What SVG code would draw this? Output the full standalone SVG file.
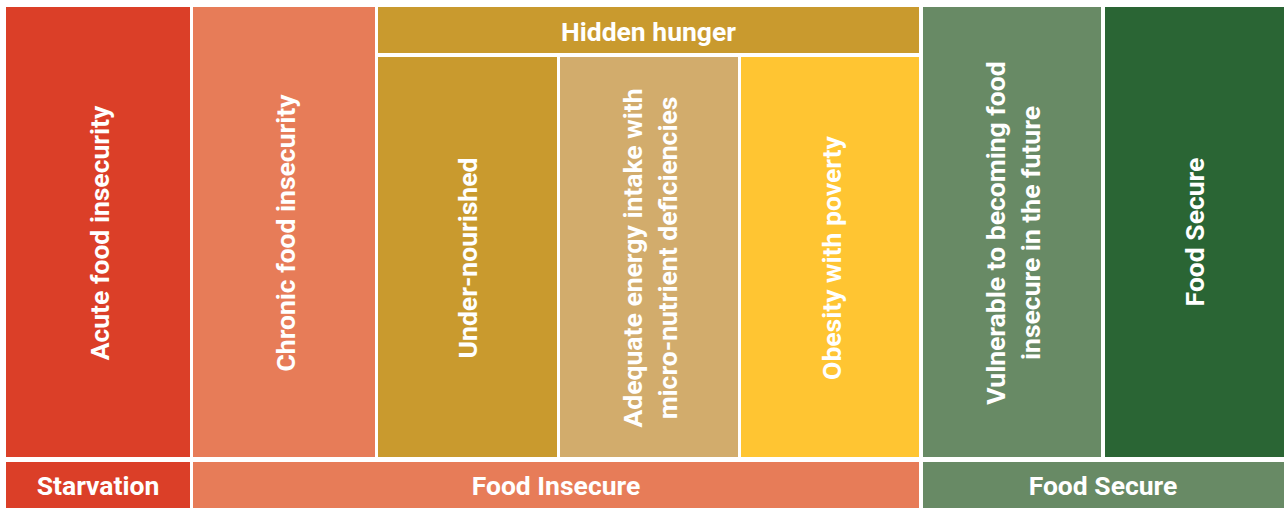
<svg xmlns="http://www.w3.org/2000/svg" width="1284" height="508" viewBox="0 0 1284 508">
<style>
text{font-family:Roboto,"Liberation Sans",sans-serif;font-weight:700;font-size:26.5px;fill:#ffffff;text-anchor:middle;dominant-baseline:central}
</style>
<rect x="0" y="0" width="1284" height="508" fill="#ffffff"/>
<g id="acute"><rect x="6" y="7" width="184" height="450" fill="#DB3F28"/><text transform="translate(99,233) rotate(-90)">Acute food insecurity</text></g>
<g id="chronic"><rect x="193" y="7" width="182" height="450" fill="#E77C58"/><text transform="translate(285,233) rotate(-90)">Chronic food insecurity</text></g>
<g id="hidden"><rect x="378" y="7" width="541" height="46" fill="#C99A2E"/><text x="648.5" y="31.5">Hidden hunger</text></g>
<g id="undernourished"><rect x="378" y="57" width="179" height="400" fill="#C99A2E"/><text transform="translate(467.5,258) rotate(-90)">Under-nourished</text></g>
<g id="adequate"><rect x="560" y="57" width="178" height="400" fill="#D2AC6C"/><text transform="translate(649,258) rotate(-90)"><tspan x="0" dy="-17.5">Adequate energy intake with</tspan><tspan x="0" dy="35">micro-nutrient deficiencies</tspan></text></g>
<g id="obesity"><rect x="741" y="57" width="178" height="400" fill="#FFC532"/><text transform="translate(831,258) rotate(-90)">Obesity with poverty</text></g>
<g id="vulnerable"><rect x="923" y="7" width="178" height="450" fill="#688A65"/><text transform="translate(1012,233) rotate(-90)"><tspan x="0" dy="-17.5">Vulnerable to becoming food</tspan><tspan x="0" dy="35">insecure in the future</tspan></text></g>
<g id="secure"><rect x="1105" y="7" width="179" height="450" fill="#2A6534"/><text transform="translate(1194.5,232) rotate(-90)">Food Secure</text></g>
<g id="starvation"><rect x="6" y="462" width="184" height="46" fill="#DB3F28"/><text x="98" y="485">Starvation</text></g>
<g id="food-insecure"><rect x="193" y="462" width="726" height="46" fill="#E77C58"/><text x="556" y="485">Food Insecure</text></g>
<g id="food-secure"><rect x="923" y="462" width="361" height="46" fill="#688A65"/><text x="1103" y="485">Food Secure</text></g>
<g id="connectors"></g>
</svg>
